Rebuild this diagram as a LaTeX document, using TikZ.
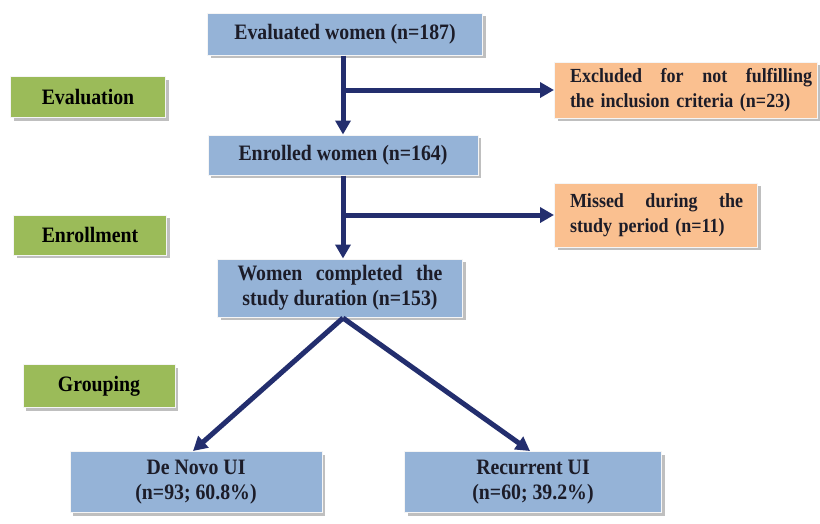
\documentclass[tikz,border=0pt]{standalone}
\usepackage{fontspec}
\setmainfont{Liberation Serif}[FakeStretch=0.9]
\usetikzlibrary{shadows,arrows.meta}
\definecolor{boxblue}{RGB}{149,179,215}
\definecolor{boxorange}{RGB}{250,192,144}
\definecolor{boxgreen}{RGB}{155,187,89}
\definecolor{arrownavy}{RGB}{35,46,110}
\definecolor{txt}{RGB}{28,28,40}
\begin{document}
\begin{tikzpicture}[x=1pt,y=-1pt,
  basebox/.style={draw=white!92!gray, line width=1pt, inner sep=0pt, text=txt,
    font=\bfseries\fontsize{22}{25}\selectfont,
    drop shadow={shadow xshift=3pt, shadow yshift=-3pt, fill=black!45, opacity=0.55}},
  bluebox/.style={basebox, fill=boxblue, align=center},
  orangebox/.style={basebox, fill=boxorange, align=left, font=\bfseries\fontsize{20}{25}\selectfont},
  greenbox/.style={basebox, fill=boxgreen, align=center, text=black},
  arrowline/.style={draw=arrownavy, line width=5pt, -{Triangle[length=14pt,width=15pt]}}
]
\useasboundingbox (0,0) rectangle (820,523);
\fill[white] (0,0) rectangle (820,523);

% main column
\node[bluebox, minimum width=275pt, minimum height=42pt] (eval) at (345,34) {Evaluated women (n=187)};
\node[bluebox, minimum width=270pt, minimum height=40pt] (enr) at (343,155) {Enrolled women (n=164)};
\node[bluebox, minimum width=245pt, minimum height=58pt] (comp) at (340,288)
  {\makebox[205pt]{Women\hfill completed\hfill the}\\study duration (n=153)};

% side boxes
\node[orangebox, minimum width=263pt, minimum height=56pt, text width=252pt] (excl) at (686,90)
  {\hspace*{10pt}\makebox[242pt]{Excluded\hfill for\hfill not\hfill fulfilling}\\\hspace*{10pt}the inclusion criteria (n=23)};
\node[orangebox, minimum width=203pt, minimum height=64pt, text width=188pt] (miss) at (656,215)
  {\hspace*{8pt}\makebox[173pt]{Missed\hfill during\hfill the}\\\hspace*{8pt}study period (n=11)};

% stage labels
\node[greenbox, minimum width=155pt, minimum height=41pt] (gEval) at (88,97) {Evaluation};
\node[greenbox, minimum width=153pt, minimum height=40pt] (gEnr) at (90,235) {Enrollment};
\node[greenbox, minimum width=152pt, minimum height=43pt] (gGrp) at (99,386) {Grouping};

% groups
\node[bluebox, minimum width=252pt, minimum height=61pt] (dnovo) at (196,482) {De Novo UI\\(n=93; 60.8\%)};
\node[bluebox, minimum width=257pt, minimum height=61pt] (recur) at (533,482) {Recurrent UI\\(n=60; 39.2\%)};

% connectors
\coordinate (b1) at (343,90);
\coordinate (b2) at (343,215);
\draw[arrowline] (eval.south -| b1) -- (enr.north -| b1);
\draw[arrowline] (b1) -- (excl.west);
\draw[arrowline] (enr.south -| b2) -- (comp.north -| b2);
\draw[arrowline] (b2) -- (miss.west);
\coordinate (c0) at (343,318);
\draw[arrowline] (c0) -- ([xshift=-3pt]dnovo.north);
\draw[arrowline] (c0) -- ([xshift=-3pt]recur.north);
\end{tikzpicture}
\end{document}
